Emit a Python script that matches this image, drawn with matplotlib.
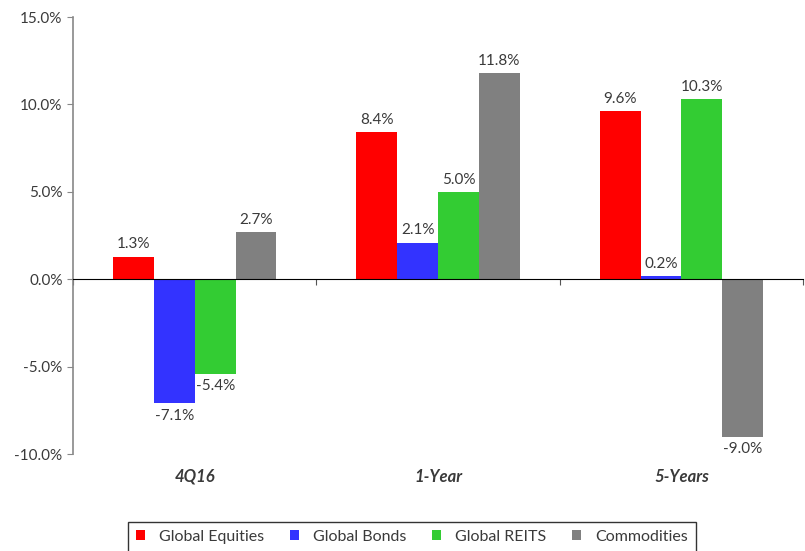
import numpy as np
import matplotlib.pyplot as plt
from matplotlib.ticker import FuncFormatter, FixedLocator

plt.rcParams['font.family'] = ['Lato', 'DejaVu Sans']

# dati
periodi = ["4Q16", "1-Year", "5-Years"]
serie = ["Global Equities", "Global Bonds", "Global REITS", "Commodities"]
equities = [1.3, 8.4, 9.6]
bonds = [-7.1, 2.1, 0.2]
reits = [-5.4, 5.0, 10.3]
commodities = [2.7, 11.8, -9.0]
colori = ["#ff0000", "#3333ff", "#33cc33", "#808080"]

valori = [equities, bonds, reits, commodities]
testo = "#3a3a3a"

fig = plt.figure(figsize=(8.05, 5.51), dpi=100)
ax = fig.add_axes([0.0907, 0.176, 0.907, 0.793])

x = np.arange(len(periodi))
larghezza = 0.168
for i, (nome, val, col) in enumerate(zip(serie, valori, colori)):
    pos = x + (i - 1.5) * larghezza
    bars = ax.bar(pos, val, larghezza, color=col, label=nome, zorder=2)
    for b, v in zip(bars, val):
        if v >= 0:
            ax.text(b.get_x() + b.get_width() / 2, v + 0.3, f"{v:.1f}%",
                    ha="center", va="bottom", fontsize=11, color=testo)
        else:
            ax.text(b.get_x() + b.get_width() / 2, v - 0.3, f"{v:.1f}%",
                    ha="center", va="top", fontsize=11, color=testo)

ax.set_xlim(-0.5, 2.5)
ax.set_ylim(-10, 15)
ax.set_yticks([-10, -5, 0, 5, 10, 15])
ax.yaxis.set_major_formatter(FuncFormatter(lambda v, p: f"{v:.1f}%"))
ax.tick_params(axis="y", colors="#888888", labelcolor=testo, labelsize=11,
               length=4, direction="out")

# asse x sullo zero con tacche ai confini dei gruppi
ax.spines["bottom"].set_position(("data", 0))
ax.spines["bottom"].set_color("black")
ax.spines["left"].set_color("#888888")
ax.spines["left"].set_linewidth(1.2)
ax.spines["top"].set_visible(False)
ax.spines["right"].set_visible(False)
ax.xaxis.set_major_locator(FixedLocator([-0.5, 0.5, 1.5, 2.5]))
ax.tick_params(axis="x", labelbottom=False, length=4, colors="#555555")

for xi, nome in zip(x, periodi):
    ax.text(xi, -11.3, nome, ha="center", va="center", fontsize=12,
            fontweight="bold", fontstyle="italic", color=testo, clip_on=False)

leg = fig.legend(loc="upper center", bbox_to_anchor=(0.512, 0.053), ncol=4,
                 frameon=True, fancybox=False, edgecolor="black",
                 fontsize=11.5, handlelength=0.55, handleheight=0.55,
                 columnspacing=1.6, handletextpad=0.9, borderpad=0.5,
                 borderaxespad=0)
leg.get_frame().set_linewidth(1.0)
for t in leg.get_texts():
    t.set_color(testo)

fig.savefig("out.png", dpi=100)
